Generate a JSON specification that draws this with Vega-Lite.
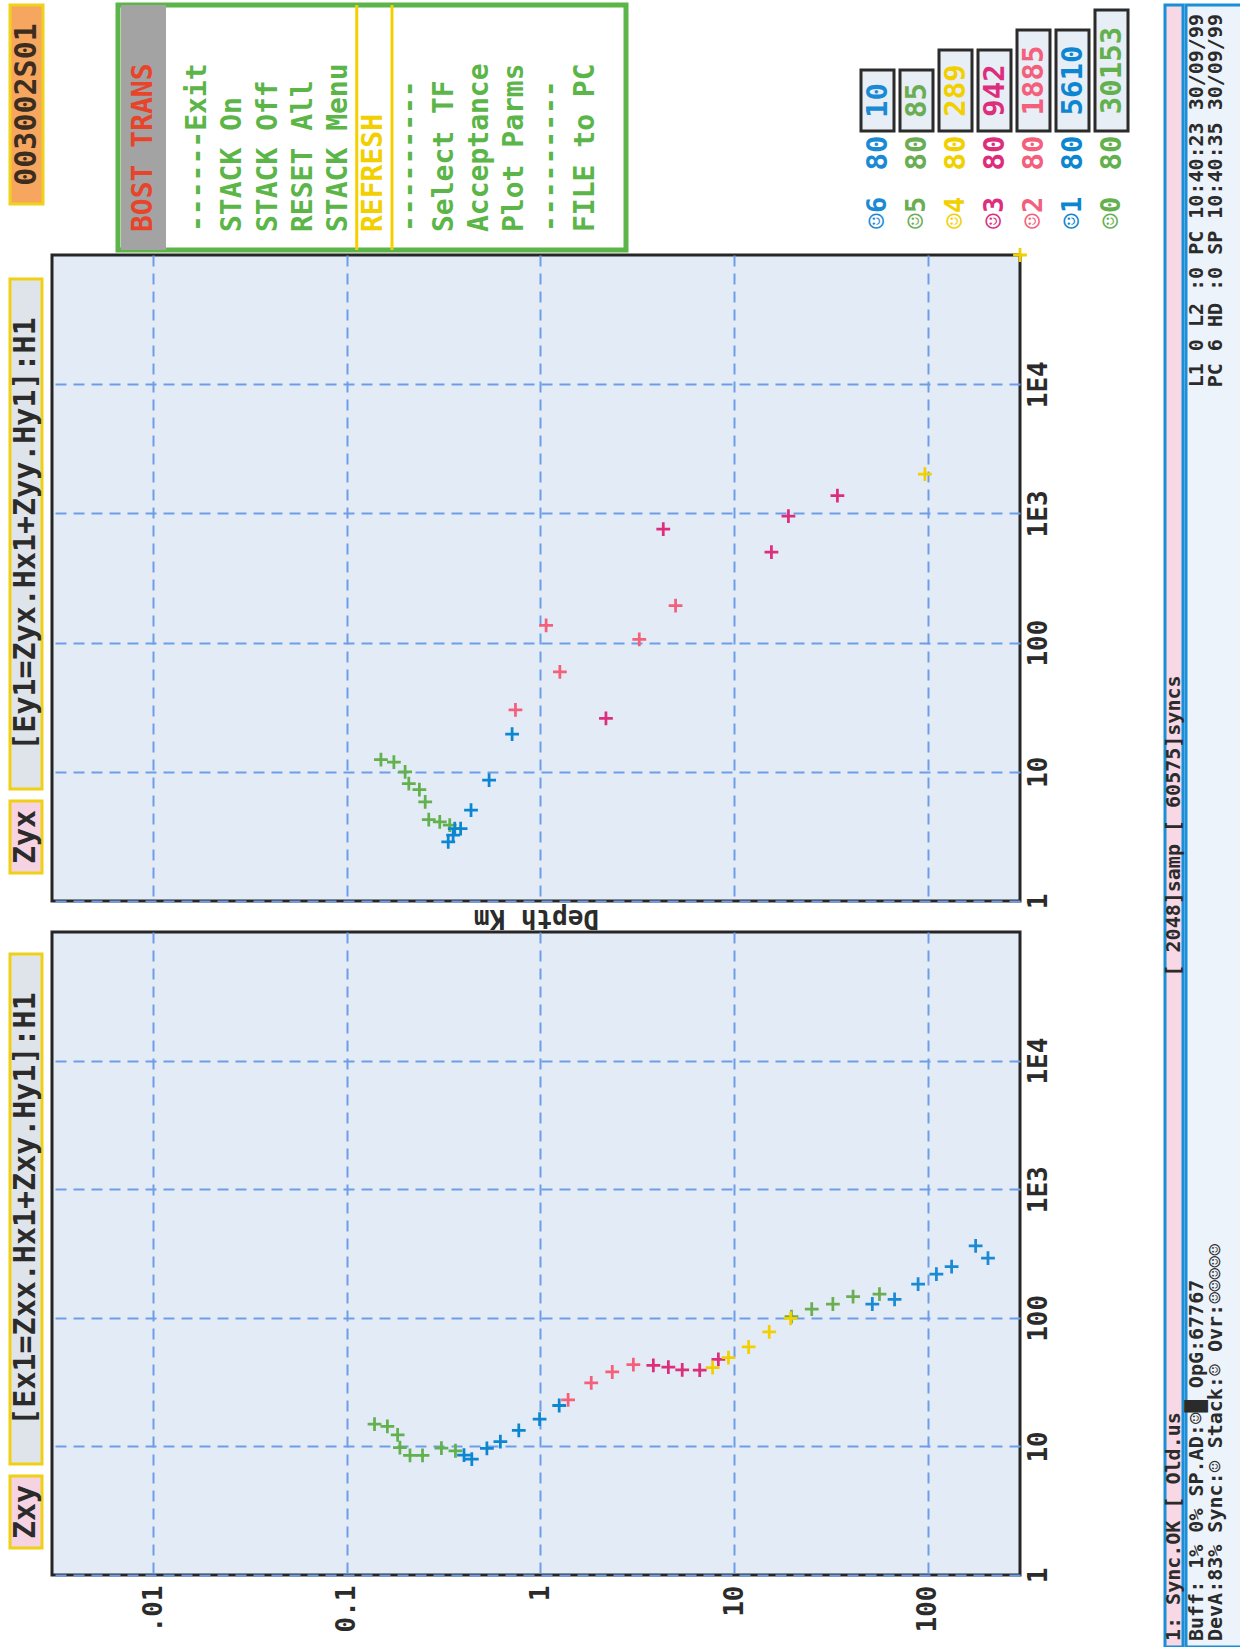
{
  "$schema": "https://vega.github.io/schema/vega-lite/v6.json",
  "background": "#ffffff",
  "padding": {"left": 8, "top": 1, "right": 0, "bottom": 0},
  "config": {
    "view": {"stroke": null},
    "font": "DejaVu Sans Mono",
    "text": {"font": "DejaVu Sans Mono", "fontWeight": "bold"},
    "axis": {"labelFont": "DejaVu Sans Mono", "labelFontWeight": "bold", "titleFont": "DejaVu Sans Mono", "titleFontWeight": "bold", "labelColor": "#2b2b2b", "titleColor": "#2b2b2b"}
  },
  "datasets": {
    "ident": [{"id": "003002S01"}],
    "menuTitle": [{"title": "BOST TRANS"}],
    "menu": [
      {"id": "m01", "label": "------Exit", "kind": "item"},
      {"id": "m02", "label": "STACK On", "kind": "item"},
      {"id": "m03", "label": "STACK Off", "kind": "item"},
      {"id": "m04", "label": "RESET All", "kind": "item"},
      {"id": "m05", "label": "STACK Menu", "kind": "item"},
      {"id": "m06", "label": "REFRESH", "kind": "hi"},
      {"id": "m07", "label": "---------", "kind": "item"},
      {"id": "m08", "label": "Select TF", "kind": "item"},
      {"id": "m09", "label": "Acceptance", "kind": "item"},
      {"id": "m10", "label": "Plot Parms", "kind": "item"},
      {"id": "m11", "label": "---------", "kind": "item"},
      {"id": "m12", "label": "FILE to PC", "kind": "item"}
    ],
    "legend": [
      {"chan": "☺6", "rate": "80", "count": "10"},
      {"chan": "☺5", "rate": "80", "count": "85"},
      {"chan": "☺4", "rate": "80", "count": "289"},
      {"chan": "☺3", "rate": "80", "count": "942"},
      {"chan": "☺2", "rate": "80", "count": "1885"},
      {"chan": "☺1", "rate": "80", "count": "5610"},
      {"chan": "☺0", "rate": "80", "count": "30153"}
    ],
    "labels": [
      {"panel": "Zyx", "formula": "[Ey1=Zyx.Hx1+Zyy.Hy1]:H1"},
      {"panel": "Zxy", "formula": "[Ex1=Zxx.Hx1+Zxy.Hy1]:H1"}
    ],
    "status": [
      {"line": "a", "left": "1: Sync.OK [   Old.us", "mid": "[ 2048]samp [ 60575]syncs", "right": ""},
      {"line": "b", "left": "Buff: 1%  0%  SP.AD:☺█  OpG:67767", "mid": "", "right": "L1  0 L2 :0 PC 10:40:23 30/09/99"},
      {"line": "c", "left": "DevA:83% Sync:☺ Stack:☺  Ovr:☺☺☺☺☺", "mid": "", "right": "PC  6 HD :0 SP 10:40:35 30/09/99"}
    ],
    "zxy": [
      {"band": "☺0", "x": 0.139, "y": 14.9},
      {"band": "☺0", "x": 0.162, "y": 14.3},
      {"band": "☺0", "x": 0.183, "y": 12.3},
      {"band": "☺0", "x": 0.188, "y": 9.8},
      {"band": "☺0", "x": 0.212, "y": 8.5},
      {"band": "☺0", "x": 0.246, "y": 8.5},
      {"band": "☺0", "x": 0.308, "y": 9.7},
      {"band": "☺0", "x": 0.364, "y": 9.25},
      {"band": "☺1", "x": 0.403, "y": 8.55},
      {"band": "☺1", "x": 0.442, "y": 7.96},
      {"band": "☺1", "x": 0.529, "y": 9.64},
      {"band": "☺1", "x": 0.621, "y": 10.9},
      {"band": "☺1", "x": 0.773, "y": 13.3},
      {"band": "☺1", "x": 0.99, "y": 16.3},
      {"band": "☺1", "x": 1.25, "y": 20.8},
      {"band": "☺2", "x": 1.39, "y": 23.0},
      {"band": "☺2", "x": 1.83, "y": 31.2},
      {"band": "☺2", "x": 2.35, "y": 37.9},
      {"band": "☺2", "x": 3.02, "y": 43.2},
      {"band": "☺3", "x": 3.83, "y": 42.7},
      {"band": "☺3", "x": 4.58, "y": 41.4},
      {"band": "☺3", "x": 5.4, "y": 39.4},
      {"band": "☺3", "x": 6.65, "y": 39.2},
      {"band": "☺3", "x": 8.3, "y": 47.5},
      {"band": "☺4", "x": 7.75, "y": 40.9},
      {"band": "☺4", "x": 9.36, "y": 49.0},
      {"band": "☺4", "x": 11.9, "y": 59.3},
      {"band": "☺4", "x": 15.2, "y": 77.8},
      {"band": "☺5", "x": 19.8, "y": 102},
      {"band": "☺4", "x": 19.6, "y": 98.8},
      {"band": "☺5", "x": 25.2, "y": 117},
      {"band": "☺5", "x": 32.4, "y": 128},
      {"band": "☺5", "x": 41.2, "y": 146},
      {"band": "☺5", "x": 56.4, "y": 153},
      {"band": "☺6", "x": 51.8, "y": 128},
      {"band": "☺6", "x": 67.5, "y": 139},
      {"band": "☺6", "x": 89.3, "y": 183},
      {"band": "☺6", "x": 111, "y": 219},
      {"band": "☺6", "x": 133, "y": 250},
      {"band": "☺6", "x": 177, "y": 363},
      {"band": "☺6", "x": 205, "y": 291}
    ],
    "zyx": [
      {"band": "☺0", "x": 0.15, "y": 12.4},
      {"band": "☺0", "x": 0.175, "y": 11.9},
      {"band": "☺0", "x": 0.2, "y": 10.0},
      {"band": "☺0", "x": 0.209, "y": 8.11},
      {"band": "☺0", "x": 0.237, "y": 7.29},
      {"band": "☺0", "x": 0.254, "y": 5.85},
      {"band": "☺0", "x": 0.265, "y": 4.26},
      {"band": "☺0", "x": 0.302, "y": 4.09},
      {"band": "☺0", "x": 0.34, "y": 3.86},
      {"band": "☺1", "x": 0.334, "y": 2.87},
      {"band": "☺1", "x": 0.354, "y": 3.23},
      {"band": "☺1", "x": 0.361, "y": 3.63},
      {"band": "☺1", "x": 0.387, "y": 3.63},
      {"band": "☺1", "x": 0.438, "y": 5.05},
      {"band": "☺1", "x": 0.543, "y": 8.63},
      {"band": "☺1", "x": 0.714, "y": 19.6},
      {"band": "☺2", "x": 0.743, "y": 30.1},
      {"band": "☺2", "x": 1.07, "y": 136},
      {"band": "☺2", "x": 1.26, "y": 59.4},
      {"band": "☺3", "x": 2.18, "y": 25.9},
      {"band": "☺2", "x": 3.24, "y": 106},
      {"band": "☺2", "x": 4.99, "y": 193},
      {"band": "☺3", "x": 4.31, "y": 757},
      {"band": "☺3", "x": 15.6, "y": 501},
      {"band": "☺3", "x": 19.1, "y": 954},
      {"band": "☺3", "x": 34.2, "y": 1375},
      {"band": "☺4", "x": 96.8, "y": 2010},
      {"band": "☺4", "x": 300, "y": 100000}
    ]
  },
  "hconcat": [
    {
      "vconcat": [
        {
          "hconcat": [
            {
              "width": 33, "height": 199,
              "data": {"name": "ident"},
              "view": {"fill": "#f6a65e", "stroke": "#f0d21a", "strokeWidth": 3},
              "mark": {"type": "text", "angle": 270, "fontSize": 30, "fill": "#3b2d20"},
              "encoding": {"text": {"field": "id"}}
            },
            {
              "hconcat": [
                {
                  "width": 508, "height": 245,
                  "view": {"fill": "#ffffff", "stroke": "#5cb548", "strokeWidth": 5},
                  "layer": [
                    {
                      "data": {"name": "menuTitle"},
                      "mark": {"type": "bar", "fill": "#a3a3a3"},
                      "encoding": {"x": {"field": "title", "type": "nominal", "scale": {"type": "band", "range": [3, 48], "paddingInner": 0, "paddingOuter": 0}, "axis": null}}
                    },
                    {
                      "data": {"name": "menuTitle"},
                      "mark": {"type": "text", "angle": 270, "align": "left", "baseline": "middle", "dx": 18, "fontSize": 28, "fill": "#e8442c"},
                      "encoding": {
                        "x": {"field": "title", "type": "nominal", "scale": {"type": "band", "range": [3, 48], "paddingInner": 0, "paddingOuter": 0}, "axis": null},
                        "y": {"value": "height"},
                        "text": {"field": "title"}
                      }
                    },
                    {
                      "data": {"name": "menu"},
                      "transform": [{"filter": "datum.kind === 'hi'"}],
                      "mark": {"type": "rule", "stroke": "#f5d000", "strokeWidth": 3},
                      "encoding": {"x": {"field": "id", "type": "nominal", "bandPosition": 0, "scale": {"type": "band", "domain": ["m01","m02","m03","m04","m05","m06","m07","m08","m09","m10","m11","m12"], "range": [62.4, 485.6], "paddingInner": 0, "paddingOuter": 0}, "axis": null}}
                    },
                    {
                      "data": {"name": "menu"},
                      "transform": [{"filter": "datum.kind === 'hi'"}],
                      "mark": {"type": "rule", "stroke": "#f5d000", "strokeWidth": 3},
                      "encoding": {"x": {"field": "id", "type": "nominal", "bandPosition": 1, "scale": {"type": "band", "domain": ["m01","m02","m03","m04","m05","m06","m07","m08","m09","m10","m11","m12"], "range": [62.4, 485.6], "paddingInner": 0, "paddingOuter": 0}, "axis": null}}
                    },
                    {
                      "data": {"name": "menu"},
                      "transform": [{"filter": "datum.kind === 'item'"}],
                      "mark": {"type": "text", "angle": 270, "align": "left", "baseline": "middle", "dx": 18, "fontSize": 28, "fill": "#5cb548"},
                      "encoding": {
                        "x": {"field": "id", "type": "nominal", "scale": {"type": "band", "domain": ["m01","m02","m03","m04","m05","m06","m07","m08","m09","m10","m11","m12"], "range": [62.4, 485.6], "paddingInner": 0, "paddingOuter": 0}, "axis": null},
                        "y": {"value": "height"},
                        "text": {"field": "label"}
                      }
                    },
                    {
                      "data": {"name": "menu"},
                      "transform": [{"filter": "datum.kind === 'hi'"}],
                      "mark": {"type": "text", "angle": 270, "align": "left", "baseline": "middle", "dx": 18, "fontSize": 28, "fill": "#f2cf00"},
                      "encoding": {
                        "x": {"field": "id", "type": "nominal", "scale": {"type": "band", "domain": ["m01","m02","m03","m04","m05","m06","m07","m08","m09","m10","m11","m12"], "range": [62.4, 485.6], "paddingInner": 0, "paddingOuter": 0}, "axis": null},
                        "y": {"value": "height"},
                        "text": {"field": "label"}
                      }
                    }
                  ],
                  "resolve": {"scale": {"x": "independent"}}
                },
                {
                  "hconcat": [
                    {"vconcat": [
                      {"width": 33, "height": 63, "data": {"values": []}, "mark": {"type": "text"}},
                      {"width": 33, "height": 61, "data": {"name": "legend"}, "transform": [{"filter": "datum.chan === '☺6'"}], "view": {"fill": "#e8eef5", "stroke": "#2b2b2b", "strokeWidth": 3}, "mark": {"type": "text", "angle": 270, "fontSize": 29}, "encoding": {"text": {"field": "count"}, "color": {"field": "chan", "type": "nominal", "scale": {"domain": ["☺6","☺5","☺4","☺3","☺2","☺1","☺0"], "range": ["#1a8ad4","#6aad52","#f2d000","#dd2e7d","#f4607c","#0c86d1","#62b04e"]}, "legend": null}}},
                      {"width": 33, "height": 40, "data": {"name": "legend"}, "transform": [{"filter": "datum.chan === '☺6'"}], "mark": {"type": "text", "angle": 270, "fontSize": 29}, "encoding": {"text": {"field": "rate"}, "color": {"field": "chan", "type": "nominal", "legend": null}}},
                      {"width": 33, "height": 80, "data": {"name": "legend"}, "transform": [{"filter": "datum.chan === '☺6'"}], "mark": {"type": "text", "angle": 270, "fontSize": 27}, "encoding": {"text": {"field": "chan"}, "color": {"field": "chan", "type": "nominal", "legend": null}}}
                    ], "spacing": 0},
                    {"vconcat": [
                      {"width": 33, "height": 63, "data": {"values": []}, "mark": {"type": "text"}},
                      {"width": 33, "height": 61, "data": {"name": "legend"}, "transform": [{"filter": "datum.chan === '☺5'"}], "view": {"fill": "#e8eef5", "stroke": "#2b2b2b", "strokeWidth": 3}, "mark": {"type": "text", "angle": 270, "fontSize": 29}, "encoding": {"text": {"field": "count"}, "color": {"field": "chan", "type": "nominal", "legend": null}}},
                      {"width": 33, "height": 40, "data": {"name": "legend"}, "transform": [{"filter": "datum.chan === '☺5'"}], "mark": {"type": "text", "angle": 270, "fontSize": 29}, "encoding": {"text": {"field": "rate"}, "color": {"field": "chan", "type": "nominal", "legend": null}}},
                      {"width": 33, "height": 80, "data": {"name": "legend"}, "transform": [{"filter": "datum.chan === '☺5'"}], "mark": {"type": "text", "angle": 270, "fontSize": 27}, "encoding": {"text": {"field": "chan"}, "color": {"field": "chan", "type": "nominal", "legend": null}}}
                    ], "spacing": 0},
                    {"vconcat": [
                      {"width": 33, "height": 43, "data": {"values": []}, "mark": {"type": "text"}},
                      {"width": 33, "height": 81, "data": {"name": "legend"}, "transform": [{"filter": "datum.chan === '☺4'"}], "view": {"fill": "#e8eef5", "stroke": "#2b2b2b", "strokeWidth": 3}, "mark": {"type": "text", "angle": 270, "fontSize": 29}, "encoding": {"text": {"field": "count"}, "color": {"field": "chan", "type": "nominal", "legend": null}}},
                      {"width": 33, "height": 40, "data": {"name": "legend"}, "transform": [{"filter": "datum.chan === '☺4'"}], "mark": {"type": "text", "angle": 270, "fontSize": 29}, "encoding": {"text": {"field": "rate"}, "color": {"field": "chan", "type": "nominal", "legend": null}}},
                      {"width": 33, "height": 80, "data": {"name": "legend"}, "transform": [{"filter": "datum.chan === '☺4'"}], "mark": {"type": "text", "angle": 270, "fontSize": 27}, "encoding": {"text": {"field": "chan"}, "color": {"field": "chan", "type": "nominal", "legend": null}}}
                    ], "spacing": 0},
                    {"vconcat": [
                      {"width": 33, "height": 43, "data": {"values": []}, "mark": {"type": "text"}},
                      {"width": 33, "height": 81, "data": {"name": "legend"}, "transform": [{"filter": "datum.chan === '☺3'"}], "view": {"fill": "#e8eef5", "stroke": "#2b2b2b", "strokeWidth": 3}, "mark": {"type": "text", "angle": 270, "fontSize": 29}, "encoding": {"text": {"field": "count"}, "color": {"field": "chan", "type": "nominal", "legend": null}}},
                      {"width": 33, "height": 40, "data": {"name": "legend"}, "transform": [{"filter": "datum.chan === '☺3'"}], "mark": {"type": "text", "angle": 270, "fontSize": 29}, "encoding": {"text": {"field": "rate"}, "color": {"field": "chan", "type": "nominal", "legend": null}}},
                      {"width": 33, "height": 80, "data": {"name": "legend"}, "transform": [{"filter": "datum.chan === '☺3'"}], "mark": {"type": "text", "angle": 270, "fontSize": 27}, "encoding": {"text": {"field": "chan"}, "color": {"field": "chan", "type": "nominal", "legend": null}}}
                    ], "spacing": 0},
                    {"vconcat": [
                      {"width": 33, "height": 23, "data": {"values": []}, "mark": {"type": "text"}},
                      {"width": 33, "height": 101, "data": {"name": "legend"}, "transform": [{"filter": "datum.chan === '☺2'"}], "view": {"fill": "#e8eef5", "stroke": "#2b2b2b", "strokeWidth": 3}, "mark": {"type": "text", "angle": 270, "fontSize": 29}, "encoding": {"text": {"field": "count"}, "color": {"field": "chan", "type": "nominal", "legend": null}}},
                      {"width": 33, "height": 40, "data": {"name": "legend"}, "transform": [{"filter": "datum.chan === '☺2'"}], "mark": {"type": "text", "angle": 270, "fontSize": 29}, "encoding": {"text": {"field": "rate"}, "color": {"field": "chan", "type": "nominal", "legend": null}}},
                      {"width": 33, "height": 80, "data": {"name": "legend"}, "transform": [{"filter": "datum.chan === '☺2'"}], "mark": {"type": "text", "angle": 270, "fontSize": 27}, "encoding": {"text": {"field": "chan"}, "color": {"field": "chan", "type": "nominal", "legend": null}}}
                    ], "spacing": 0},
                    {"vconcat": [
                      {"width": 33, "height": 23, "data": {"values": []}, "mark": {"type": "text"}},
                      {"width": 33, "height": 101, "data": {"name": "legend"}, "transform": [{"filter": "datum.chan === '☺1'"}], "view": {"fill": "#e8eef5", "stroke": "#2b2b2b", "strokeWidth": 3}, "mark": {"type": "text", "angle": 270, "fontSize": 29}, "encoding": {"text": {"field": "count"}, "color": {"field": "chan", "type": "nominal", "legend": null}}},
                      {"width": 33, "height": 40, "data": {"name": "legend"}, "transform": [{"filter": "datum.chan === '☺1'"}], "mark": {"type": "text", "angle": 270, "fontSize": 29}, "encoding": {"text": {"field": "rate"}, "color": {"field": "chan", "type": "nominal", "legend": null}}},
                      {"width": 33, "height": 80, "data": {"name": "legend"}, "transform": [{"filter": "datum.chan === '☺1'"}], "mark": {"type": "text", "angle": 270, "fontSize": 27}, "encoding": {"text": {"field": "chan"}, "color": {"field": "chan", "type": "nominal", "legend": null}}}
                    ], "spacing": 0},
                    {"vconcat": [
                      {"width": 33, "height": 3, "data": {"values": []}, "mark": {"type": "text"}},
                      {"width": 33, "height": 121, "data": {"name": "legend"}, "transform": [{"filter": "datum.chan === '☺0'"}], "view": {"fill": "#e8eef5", "stroke": "#2b2b2b", "strokeWidth": 3}, "mark": {"type": "text", "angle": 270, "fontSize": 29}, "encoding": {"text": {"field": "count"}, "color": {"field": "chan", "type": "nominal", "legend": null}}},
                      {"width": 33, "height": 40, "data": {"name": "legend"}, "transform": [{"filter": "datum.chan === '☺0'"}], "mark": {"type": "text", "angle": 270, "fontSize": 29}, "encoding": {"text": {"field": "rate"}, "color": {"field": "chan", "type": "nominal", "legend": null}}},
                      {"width": 33, "height": 80, "data": {"name": "legend"}, "transform": [{"filter": "datum.chan === '☺0'"}], "mark": {"type": "text", "angle": 270, "fontSize": 27}, "encoding": {"text": {"field": "chan"}, "color": {"field": "chan", "type": "nominal", "legend": null}}}
                    ], "spacing": 0}
                  ],
                  "spacing": 2
                }
              ],
              "spacing": 230
            }
          ],
          "spacing": 70
        },
        {
          "vconcat": [
            {
              "hconcat": [
                {
                  "vconcat": [
                    {"width": 32, "height": 14, "data": {"values": []}, "mark": {"type": "text"}},
                    {"width": 32, "height": 510, "data": {"name": "labels"}, "transform": [{"filter": "datum.panel === 'Zyx'"}], "view": {"fill": "#dfe4eb", "stroke": "#f0d015", "strokeWidth": 3}, "mark": {"type": "text", "angle": 270, "fontSize": 30, "fill": "#2b2b2b"}, "encoding": {"text": {"field": "formula"}}},
                    {"width": 32, "height": 72, "data": {"name": "labels"}, "transform": [{"filter": "datum.panel === 'Zyx'"}], "view": {"fill": "#f6d3e3", "stroke": "#f0d015", "strokeWidth": 3}, "mark": {"type": "text", "angle": 270, "fontSize": 30, "fill": "#2b2b2b"}, "encoding": {"text": {"field": "panel"}}}
                  ],
                  "spacing": 8
                },
                {
                  "width": 968, "height": 646,
                  "data": {"name": "zyx"},
                  "view": {"fill": "#e3ecf6", "stroke": "#262626", "strokeWidth": 3},
                  "mark": {"type": "point", "shape": "M-1,-0.2H1V0.2H-1Z M-0.2,-1H0.2V1H-0.2Z", "filled": true, "size": 190, "opacity": 1},
                  "encoding": {
                    "x": {"field": "x", "type": "quantitative", "scale": {"type": "log", "domain": [0.003, 300], "nice": false},
                      "axis": {"values": [0.01, 0.1, 1, 10, 100], "labels": false, "ticks": false, "domain": false, "grid": true, "gridColor": "#6d9de6", "gridDash": [11, 7], "gridWidth": 2, "title": "Depth Km", "titleAngle": 180, "titleBaseline": "bottom", "titlePadding": 3, "titleFontSize": 26}},
                    "y": {"field": "y", "type": "quantitative", "scale": {"type": "log", "domain": [1, 100000], "nice": false},
                      "axis": {"orient": "right", "values": [1, 10, 100, 1000, 10000], "labelExpr": "datum.value < 500 ? format(datum.value, 'd') : (datum.value < 5000 ? '1E3' : '1E4')", "labelAngle": 270, "labelAlign": "center", "labelBaseline": "top", "labelPadding": 5, "labelFontSize": 26, "ticks": false, "domain": false, "grid": true, "gridColor": "#6d9de6", "gridDash": [11, 7], "gridWidth": 2, "title": null, "labelOverlap": false, "labelFlush": false}},
                    "color": {"field": "band", "type": "nominal", "legend": null}
                  }
                }
              ],
              "spacing": 6
            },
            {
              "hconcat": [
                {
                  "vconcat": [
                    {"width": 32, "height": 12, "data": {"values": []}, "mark": {"type": "text"}},
                    {"width": 32, "height": 510, "data": {"name": "labels"}, "transform": [{"filter": "datum.panel === 'Zxy'"}], "view": {"fill": "#dfe4eb", "stroke": "#f0d015", "strokeWidth": 3}, "mark": {"type": "text", "angle": 270, "fontSize": 30, "fill": "#2b2b2b"}, "encoding": {"text": {"field": "formula"}}},
                    {"width": 32, "height": 72, "data": {"name": "labels"}, "transform": [{"filter": "datum.panel === 'Zxy'"}], "view": {"fill": "#f6d3e3", "stroke": "#f0d015", "strokeWidth": 3}, "mark": {"type": "text", "angle": 270, "fontSize": 30, "fill": "#2b2b2b"}, "encoding": {"text": {"field": "panel"}}}
                  ],
                  "spacing": 8
                },
                {
                  "width": 968, "height": 643,
                  "data": {"name": "zxy"},
                  "view": {"fill": "#e3ecf6", "stroke": "#262626", "strokeWidth": 3},
                  "mark": {"type": "point", "shape": "M-1,-0.2H1V0.2H-1Z M-0.2,-1H0.2V1H-0.2Z", "filled": true, "size": 190, "opacity": 1},
                  "encoding": {
                    "x": {"field": "x", "type": "quantitative", "scale": {"type": "log", "domain": [0.003, 300], "nice": false},
                      "axis": {"values": [0.01, 0.1, 1, 10, 100], "labelExpr": "datum.value < 0.05 ? '.01' : (datum.value < 0.5 ? '0.1' : format(datum.value, 'd'))", "labelAngle": 270, "labelAlign": "right", "labelBaseline": "middle", "labelPadding": 10, "labelFontSize": 26, "ticks": false, "domain": false, "grid": true, "gridColor": "#6d9de6", "gridDash": [11, 7], "gridWidth": 2, "title": null, "labelOverlap": false, "labelFlush": false}},
                    "y": {"field": "y", "type": "quantitative", "scale": {"type": "log", "domain": [1, 100000], "nice": false},
                      "axis": {"orient": "right", "values": [1, 10, 100, 1000, 10000], "labelExpr": "datum.value < 500 ? format(datum.value, 'd') : (datum.value < 5000 ? '1E3' : '1E4')", "labelAngle": 270, "labelAlign": "center", "labelBaseline": "top", "labelPadding": 5, "labelFontSize": 26, "ticks": false, "domain": false, "grid": true, "gridColor": "#6d9de6", "gridDash": [11, 7], "gridWidth": 2, "title": null, "labelOverlap": false, "labelFlush": false}},
                    "color": {"field": "band", "type": "nominal", "legend": null}
                  }
                }
              ],
              "spacing": 6
            }
          ],
          "spacing": -3
        }
      ],
      "spacing": -8
    },
    {
      "hconcat": [
        {
          "width": 18, "height": 1642,
          "data": {"name": "status"},
          "transform": [{"filter": "datum.line === 'a'"}],
          "view": {"fill": "#f7d8e4", "stroke": "#1b8ed8", "strokeWidth": 3},
          "layer": [
            {"mark": {"type": "text", "angle": 270, "align": "left", "baseline": "middle", "dx": 6, "fontSize": 20, "fill": "#2b2b2b"}, "encoding": {"y": {"value": "height"}, "text": {"field": "left"}}},
            {"mark": {"type": "text", "angle": 270, "align": "center", "baseline": "middle", "fontSize": 20, "fill": "#2b2b2b"}, "encoding": {"text": {"field": "mid"}}}
          ]
        },
        {
          "width": 56, "height": 1642,
          "data": {"name": "status"},
          "transform": [{"filter": "datum.line !== 'a'"}],
          "view": {"fill": "#edf3fa", "stroke": "#1b8ed8", "strokeWidth": 3},
          "encoding": {"x": {"field": "line", "type": "nominal", "scale": {"type": "band", "domain": ["b", "c"], "range": [1, 39], "paddingInner": 0, "paddingOuter": 0}, "axis": null}},
          "layer": [
            {"mark": {"type": "text", "angle": 270, "align": "left", "baseline": "middle", "dx": 6, "fontSize": 20, "fill": "#2b2b2b"}, "encoding": {"y": {"value": "height"}, "text": {"field": "left"}}},
            {"mark": {"type": "text", "angle": 270, "align": "right", "baseline": "middle", "dx": -9, "fontSize": 20, "fill": "#2b2b2b"}, "encoding": {"y": {"value": 0}, "text": {"field": "right"}}}
          ]
        }
      ],
      "spacing": -3
    }
  ],
  "spacing": 32
}
